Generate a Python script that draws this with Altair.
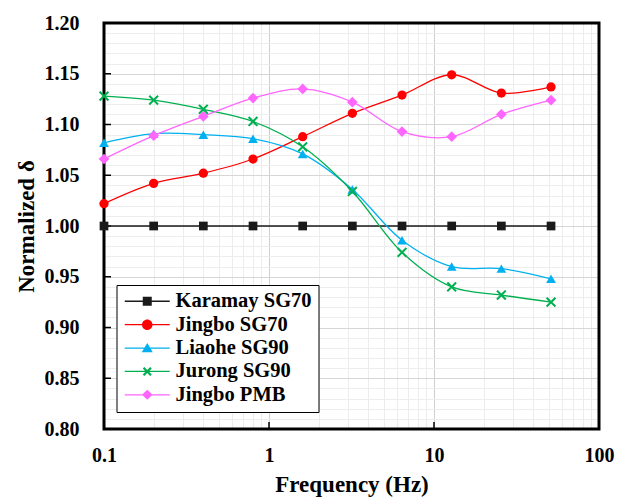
import altair as alt
import pandas as pd

# Loading frequencies (Hz) and normalized phase angle for each binder
freq_hz = [0.1, 0.2, 0.4, 0.8, 1.6, 3.2, 6.4, 12.8, 25.6, 51.2]

karamay_sg70 = [1.000, 1.000, 1.000, 1.000, 1.000, 1.000, 1.000, 1.000, 1.000, 1.000]
jingbo_sg70 = [1.022, 1.042, 1.052, 1.066, 1.088, 1.111, 1.129, 1.149, 1.131, 1.137]
liaohe_sg90 = [1.082, 1.091, 1.090, 1.086, 1.071, 1.036, 0.986, 0.960, 0.958, 0.948]
jurong_sg90 = [1.128, 1.124, 1.115, 1.103, 1.078, 1.034, 0.974, 0.940, 0.932, 0.925]
jingbo_pmb = [1.066, 1.089, 1.108, 1.126, 1.135, 1.122, 1.093, 1.088, 1.110, 1.124]

series_names = ["Karamay SG70", "Jingbo SG70", "Liaohe SG90", "Jurong SG90", "Jingbo PMB"]
series_values = [karamay_sg70, jingbo_sg70, liaohe_sg90, jurong_sg90, jingbo_pmb]
series_colors = ["#1a1a1a", "#ff0000", "#00b0f0", "#00b050", "#ff66ff"]

# Axis ticks and grid
x_major_ticks = [0.1, 1, 10, 100]
x_grid_values = [m * d for d in [0.1, 1, 10] for m in range(1, 10)] + [100]
y_major_ticks = [0.80, 0.85, 0.90, 0.95, 1.00, 1.05, 1.10, 1.15, 1.20]
y_grid_values = [round(0.80 + 0.01 * i, 2) for i in range(41)]

W, H = 495, 406
FONT = "Liberation Serif"

rows = [
    {"freq": f, "delta": v, "series": name}
    for name, vals in zip(series_names, series_values)
    for f, v in zip(freq_hz, vals)
]
df = pd.DataFrame(rows)


def x_path(a, t):
    """Filled diagonal cross of half-extent a and arm half-thickness t."""
    d = t * 2 ** 0.5
    pts = [(-a, -a + d), (-a + d, -a), (0, -d), (a - d, -a), (a, -a + d), (d, 0),
           (a, a - d), (a - d, a), (0, d), (-a + d, a), (-a, a - d), (-d, 0)]
    return "M" + "L".join(f"{x:.3f},{y:.3f}" for x, y in pts) + "Z"


# Marker shapes on the plot
plot_shapes = ["square", "circle", "triangle-up", x_path(1.0, 0.2), "diamond"]
plot_sizes = [76, 115, 160, 100, 100]

# Legend symbols: a short line segment with the marker in its middle
seg = "M-4.5,-0.13H4.5V0.13H-4.5Z"
legend_shapes = [
    seg + "M-0.9,-0.9H0.9V0.9H-0.9Z",
    seg + "M1.05,0A1.05,1.05,0,1,1,-1.05,0A1.05,1.05,0,1,1,1.05,0Z",
    seg + "M0,-1.0L1.1,0.85L-1.1,0.85Z",
    seg + x_path(0.9, 0.22),
    seg + "M-1.05,0L0,-1.0L1.05,0L0,1.0Z",
]

x_scale = alt.Scale(type="log", domain=[0.1, 100])
y_scale = alt.Scale(domain=[0.8, 1.2])
color_scale = alt.Scale(domain=series_names, range=series_colors)

x_major_test = "abs(log(datum.value)/LN10 - round(log(datum.value)/LN10)) < 1e-6"
y_major_test = "round(datum.value*100) % 5 == 0"

x_axis = alt.Axis(
    values=x_grid_values,
    title="Frequency (Hz)",
    labelExpr=f"({x_major_test}) ? format(datum.value, '~g') : ''",
    labelOverlap=False, labelFlush=False,
    labelFont=FONT, labelFontSize=20, labelFontWeight="bold", labelColor="black",
    labelBaseline="alphabetic", labelPadding=32,
    ticks=False, tickSize=0, domain=False,
    grid=True,
    gridColor={"condition": {"test": x_major_test, "value": "#cfcfcf"}, "value": "#ececec"},
    gridWidth=1,
    titleFont=FONT, titleFontSize=23, titleFontWeight="bold", titleColor="black",
    titleX=W / 2, titleY=62, titleBaseline="alphabetic", titleAlign="center",
)

y_axis = alt.Axis(
    values=y_grid_values,
    title="Normalized δ",
    labelExpr=f"({y_major_test}) ? format(datum.value, '.2f') : ''",
    labelOverlap=False, labelFlush=False,
    labelFont=FONT, labelFontSize=20, labelFontWeight="bold", labelColor="black",
    labelBaseline="middle", labelPadding=25,
    ticks=False, tickSize=0, domain=False,
    grid=True,
    gridColor={"condition": {"test": y_major_test, "value": "#d6d6d6"}, "value": "#ededed"},
    gridWidth=1,
    titleFont=FONT, titleFontSize=23, titleFontWeight="bold", titleColor="black",
    titleX=-71, titleY=H / 2, titleAngle=270, titleBaseline="alphabetic", titleAlign="center",
)

# Plot frame drawn above the grid
frame = alt.Chart(pd.DataFrame({"k": [0]})).mark_rect(
    fill="transparent", stroke="black", strokeWidth=3
).encode(x=alt.value(0), x2=alt.value(W), y=alt.value(0), y2=alt.value(H))

# Inward major ticks
y_ticks = alt.Chart(pd.DataFrame({"delta": y_major_ticks})).mark_rule(
    color="black", strokeWidth=1.5
).encode(
    y=alt.Y("delta:Q", scale=y_scale, axis=y_axis),
    x=alt.value(0), x2=alt.value(7),
)
x_ticks = alt.Chart(pd.DataFrame({"freq": x_major_ticks})).mark_rule(
    color="black", strokeWidth=1.5
).encode(
    x=alt.X("freq:Q", scale=x_scale, axis=x_axis),
    y=alt.value(H), y2=alt.value(H - 7),
)

base = alt.Chart(df)
x_enc = alt.X("freq:Q", scale=x_scale, axis=x_axis)
y_enc = alt.Y("delta:Q", scale=y_scale, axis=y_axis)

lines = base.mark_line(interpolate="catmull-rom", strokeWidth=1.3).encode(
    x=x_enc, y=y_enc,
    color=alt.Color("series:N", scale=color_scale, legend=None),
)

points = base.mark_point(filled=True, opacity=1, strokeWidth=0).encode(
    x=x_enc, y=y_enc,
    color=alt.Color("series:N", scale=color_scale, legend=None),
    shape=alt.Shape("series:N", scale=alt.Scale(domain=series_names, range=plot_shapes), legend=None),
    size=alt.Size("series:O", scale=alt.Scale(domain=series_names, range=plot_sizes), legend=None),
)

legend_spec = alt.Legend(
    title=None, orient="none", legendX=12.5, legendY=262,
    symbolSize=100, symbolStrokeWidth=0, symbolOpacity=1,
    symbolOffset=14.5, labelOffset=18,
    labelFont=FONT, labelFontSize=20.5, labelFontWeight="bold", labelColor="black",
    labelAlign="left", labelBaseline="middle",
    padding=6, rowPadding=2.4,
    strokeColor="black", fillColor="white",
)

# Legend-only layer: scales carry the series, no marks are drawn
legend_layer = base.transform_filter("false").mark_point(filled=True, strokeWidth=0).encode(
    x=x_enc, y=y_enc,
    color=alt.Color("series:N", scale=color_scale, legend=legend_spec),
    shape=alt.Shape("series:N", scale=alt.Scale(domain=series_names, range=legend_shapes), legend=legend_spec),
)

chart = alt.layer(frame, y_ticks, x_ticks, lines, points, legend_layer).resolve_scale(
    color="independent", shape="independent"
).properties(
    width=W, height=H,
    padding={"left": 104, "top": 23, "right": 28, "bottom": 71},
    autosize=alt.AutoSizeParams(type="none"),
    background="white",
).configure_view(stroke="transparent").configure(font=FONT)

chart.save("out.html", embed_options={"renderer": "svg", "actions": False})
